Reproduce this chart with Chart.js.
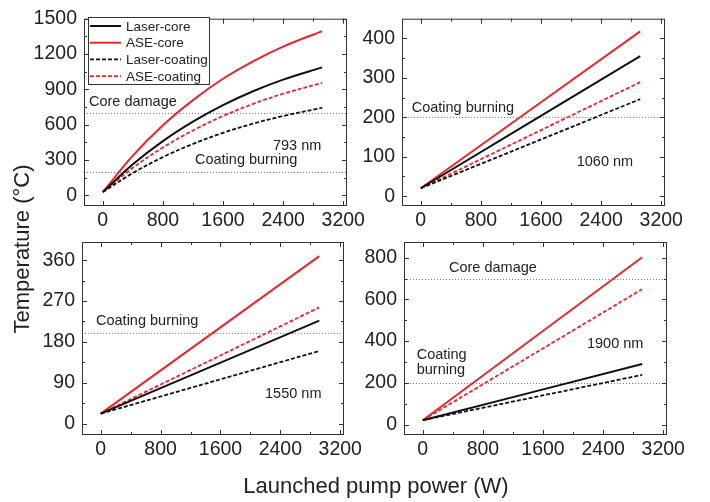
<!DOCTYPE html>
<html>
<head>
<meta charset="utf-8">
<script src="https://cdn.jsdelivr.net/npm/chart.js@4.4.1/dist/chart.umd.min.js"></script>
<style>
  body { margin: 0; background: #fff; }
  #wrap { position: relative; width: 710px; height: 502px; }
  #wrap canvas { position: absolute; left: 0; top: 0; }
</style>
</head>
<body>
<div id="wrap">
  <canvas id="c793" width="710" height="502"></canvas>
  <canvas id="c1060" width="710" height="502"></canvas>
  <canvas id="c1550" width="710" height="502"></canvas>
  <canvas id="c1900" width="710" height="502"></canvas>
</div>
<script>
window.onload = inicializar;

// pump power (W)
var power = [0, 400, 800, 1200, 1600, 2000, 2400, 2920];
var powerLin = [0, 2920];
var xTicks = [0, 800, 1600, 2400, 3200];

// 793 nm
var laserCore793 = [28, 264, 461, 626, 766, 884, 983, 1087];
var aseCore793 = [28, 337, 595, 809, 990, 1138, 1263, 1395];
var laserCoat793 = [28, 190, 325, 437, 531, 609, 674, 743];
var aseCoat793 = [28, 234, 407, 551, 674, 777, 863, 955];
var yTicks793 = [0, 300, 600, 900, 1200, 1500];
var limits793 = [700, 200];

// 1060 nm
var laserCore1060 = [20, 355];
var aseCore1060 = [20, 418];
var laserCoat1060 = [20, 246];
var aseCoat1060 = [20, 289];
var yTicks1060 = [0, 100, 200, 300, 400];
var limits1060 = [200];

// 1550 nm
var laserCore1550 = [22, 227];
var aseCore1550 = [22, 369];
var laserCoat1550 = [22, 160];
var aseCoat1550 = [22, 256];
var yTicks1550 = [0, 90, 180, 270, 360];
var limits1550 = [200];

// 1900 nm
var laserCore1900 = [21, 290];
var aseCore1900 = [21, 802];
var laserCoat1900 = [21, 238];
var aseCoat1900 = [21, 649];
var yTicks1900 = [0, 200, 400, 600, 800];
var limits1900 = [700, 200];

var RED = '#e8262c', BLACK = '#111111', TXT = '#222222';
var FONT = 'Arial, "Liberation Sans", sans-serif';

function pts(xs, ys) {
  var out = [];
  for (var i = 0; i < xs.length; i++) { out.push({ x: xs[i], y: ys[i] }); }
  return out;
}

function makeDatasets(xs, lc, ac, lo, ao) {
  return [
    { label: 'Laser-core', data: pts(xs, lc), borderColor: BLACK, borderWidth: 2 },
    { label: 'ASE-core', data: pts(xs, ac), borderColor: RED, borderWidth: 2 },
    { label: 'Laser-coating', data: pts(xs, lo), borderColor: BLACK, borderWidth: 1.8, borderDash: [4, 2] },
    { label: 'ASE-coating', data: pts(xs, ao), borderColor: RED, borderWidth: 1.8, borderDash: [4, 2] }
  ];
}

function drawInwardTicks(ctx, scale, a, horizontal, major) {
  var minor = [];
  for (var i = 0; i < major.length - 1; i++) { minor.push((major[i] + major[i + 1]) / 2); }
  var all = major.map(function (v) { return [v, 5]; }).concat(minor.map(function (v) { return [v, 3]; }));
  ctx.beginPath();
  all.forEach(function (t) {
    if (t[0] < scale.min || t[0] > scale.max) return;
    var p = Math.round(scale.getPixelForValue(t[0])) + 0.5;
    if (horizontal) {
      ctx.moveTo(p, a.bottom); ctx.lineTo(p, a.bottom - t[1]);
      ctx.moveTo(p, a.top); ctx.lineTo(p, a.top + t[1]);
    } else {
      ctx.moveTo(a.left, p); ctx.lineTo(a.left + t[1], p);
      ctx.moveTo(a.right, p); ctx.lineTo(a.right - t[1], p);
    }
  });
  ctx.stroke();
}

var framePlugin = {
  id: 'frame',
  beforeDatasetsDraw: function (chart, args, opts) {
    var ctx = chart.ctx, a = chart.chartArea, ys = chart.scales.y;
    ctx.save();
    ctx.strokeStyle = '#777';
    ctx.lineWidth = 1;
    ctx.setLineDash([1, 2]);
    (opts.limits || []).forEach(function (v) {
      var py = Math.round(ys.getPixelForValue(v)) + 0.5;
      ctx.beginPath(); ctx.moveTo(a.left, py); ctx.lineTo(a.right, py); ctx.stroke();
    });
    ctx.restore();
  },
  afterDraw: function (chart, args, opts) {
    var ctx = chart.ctx, a = chart.chartArea, xs = chart.scales.x, ys = chart.scales.y;
    ctx.save();
    ctx.strokeStyle = '#333';
    ctx.lineWidth = 1;
    ctx.strokeRect(a.left + 0.5, a.top + 0.5, a.right - a.left - 1, a.bottom - a.top - 1);
    drawInwardTicks(ctx, xs, a, true, xTicks);
    drawInwardTicks(ctx, ys, a, false, opts.yTicks);

    ctx.fillStyle = TXT;
    ctx.font = '14.5px ' + FONT;
    ctx.textAlign = 'left';
    ctx.textBaseline = 'alphabetic';
    (opts.notes || []).forEach(function (n) {
      ctx.fillText(n[0], xs.getPixelForValue(n[1]), ys.getPixelForValue(n[2]));
    });

    if (opts.legend) {
      var lx = 88, ly = 17, lw = 121, lh = 67;
      ctx.fillStyle = '#fff';
      ctx.fillRect(lx, ly, lw, lh);
      ctx.strokeStyle = '#333';
      ctx.strokeRect(lx + 0.5, ly + 0.5, lw, lh);
      ctx.font = '13.5px ' + FONT;
      ctx.textBaseline = 'middle';
      chart.data.datasets.forEach(function (d, i) {
        var cy = 26 + i * 16.7;
        ctx.strokeStyle = d.borderColor;
        ctx.lineWidth = d.borderWidth;
        ctx.setLineDash(d.borderDash || []);
        ctx.beginPath(); ctx.moveTo(90, cy); ctx.lineTo(121, cy); ctx.stroke();
        ctx.fillStyle = TXT;
        ctx.fillText(d.label, 126, cy + 1);
      });
      ctx.setLineDash([]);
    }

    if (opts.titles) {
      ctx.fillStyle = TXT;
      ctx.font = '22px ' + FONT;
      ctx.textAlign = 'center';
      ctx.textBaseline = 'alphabetic';
      ctx.fillText('Launched pump power (W)', 376, 493);
      ctx.translate(29, 249);
      ctx.rotate(-Math.PI / 2);
      ctx.fillText('Temperature (\u00B0C)', 0, 0);
    }
    ctx.restore();
  }
};

function generateChart(id, datasets, yMin, yMax, yTicks, padding, extra) {
  var tickFont = { family: FONT, size: 19.5 };
  new Chart(document.getElementById(id), {
    type: 'line',
    data: { datasets: datasets },
    options: {
      responsive: false,
      animation: false,
      devicePixelRatio: 1,
      layout: { padding: padding },
      elements: { point: { radius: 0 }, line: { tension: 0.35 } },
      plugins: {
        legend: { display: false },
        tooltip: { enabled: false },
        frame: Object.assign({ yTicks: yTicks }, extra)
      },
      scales: {
        x: {
          type: 'linear', min: -250, max: 3250,
          grid: { display: false, drawTicks: false }, border: { display: false },
          afterBuildTicks: function (s) { s.ticks = xTicks.map(function (v) { return { value: v }; }); },
          afterFit: function (s) { s.height = 30; },
          ticks: { font: tickFont, color: TXT, padding: 3, maxRotation: 0, autoSkip: false,
            callback: function (v) { return String(v); } }
        },
        y: {
          type: 'linear', min: yMin, max: yMax,
          grid: { display: false, drawTicks: false }, border: { display: false },
          afterBuildTicks: function (s) { s.ticks = yTicks.map(function (v) { return { value: v }; }); },
          afterFit: function (s) { s.width = 50; },
          ticks: { font: tickFont, color: TXT, padding: 7, autoSkip: false,
            callback: function (v) { return String(v); } }
        }
      }
    },
    plugins: [framePlugin]
  });
}

function inicializar() {
  generateChart('c793', makeDatasets(power, laserCore793, aseCore793, laserCoat793, aseCoat793),
    -90, 1500, yTicks793, { left: 34, right: 363, top: 13, bottom: 266 },
    { limits: limits793, legend: true, titles: true,
      notes: [['Core damage', -184, 761], ['793 nm', 2265, 388], ['Coating burning', 1227, 264]] });

  generateChart('c1060', makeDatasets(powerLin, laserCore1060, aseCore1060, laserCoat1060, aseCoat1060),
    -25, 450, yTicks1060, { left: 352, right: 45, top: 13, bottom: 266 },
    { limits: limits1060, notes: [['Coating burning', -121, 214], ['1060 nm', 2075, 76]] });

  generateChart('c1550', makeDatasets(powerLin, laserCore1550, aseCore1550, laserCoat1550, aseCoat1550),
    -25, 400, yTicks1550, { left: 32, right: 366, top: 242, bottom: 37 },
    { limits: limits1550, notes: [['Coating burning', -63, 217], ['1550 nm', 2195, 56]] });

  generateChart('c1900', makeDatasets(powerLin, laserCore1900, aseCore1900, laserCoat1900, aseCoat1900),
    -50, 875, yTicks1900, { left: 354, right: 43, top: 242, bottom: 37 },
    { limits: limits1900,
      notes: [['Core damage', 349, 733], ['1900 nm', 2185, 367], ['Coating', -81, 314], ['burning', -81, 242]] });
}
</script>
</body>
</html>
